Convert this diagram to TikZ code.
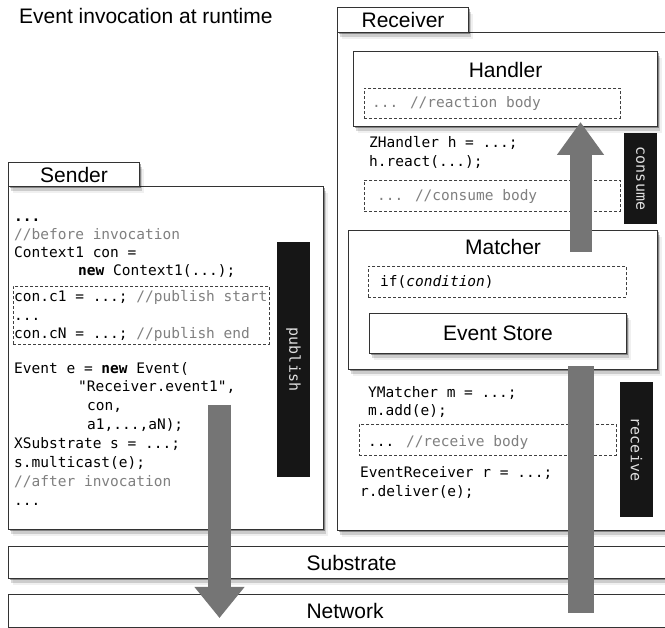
\documentclass[tikz,border=0pt]{standalone}
\usepackage{fontspec}
\setmainfont{Liberation Sans}
\newfontfamily\codefont{DejaVu Sans Mono}
\usepackage{xcolor}
\definecolor{flowgray}{RGB}{117,117,117}
\definecolor{phaseblack}{RGB}{22,22,22}
\definecolor{commentgray}{RGB}{128,128,128}
\usepackage{tikz}
\usetikzlibrary{positioning}
\usetikzlibrary{arrows.meta}
\usetikzlibrary{shadows}
\newcommand{\cmt}[1]{\textcolor{commentgray}{#1}}

\begin{document}
\begin{tikzpicture}[x=1pt,y=-1pt,font=\fontsize{21}{25}\selectfont,
  soft/.style={drop shadow={shadow xshift=1pt,shadow yshift=-1.5pt,opacity=.35,fill=black},
               drop shadow={shadow xshift=2.5pt,shadow yshift=-4pt,opacity=.15,fill=black},
               drop shadow={shadow xshift=4pt,shadow yshift=-6.5pt,opacity=.06,fill=black}},
  frame/.style={draw=black!80,fill=white,line width=1.1pt,anchor=north west,inner sep=0pt,soft},
  tab/.style={frame,soft/.style={}},
  dashbox/.style={draw=black!75,dash pattern=on 3pt off 2pt,line width=0.9pt,anchor=north west,inner sep=0pt},
  heading/.style={inner sep=0pt,anchor=north},
  code/.style={font=\codefont\fontsize{14.5}{18.3}\selectfont,align=left,anchor=base west,inner sep=0pt},
  phase/.style={fill=phaseblack,text=white!88!black,rotate=-90,inner sep=0pt,font=\codefont\fontsize{15}{18}\selectfont},
  flow/.style={draw=flowgray,-{Triangle[length=31pt,width=48pt]}}]
\useasboundingbox (0,0) rectangle (665,628);
\clip (0,0) rectangle (665,628);

\node[anchor=base west,inner sep=0pt] (title) at (19,24) {Event invocation at runtime};

% outer frames with their name tabs
\node[frame,minimum width=343pt,minimum height=498pt] (receiver) at (337,32) {};
\node[tab,minimum width=131pt,minimum height=25pt] (rcvtab) at (337,7) {Receiver};
\node[frame,minimum width=315pt,minimum height=343pt] (sender) at (8,186) {};
\node[tab,minimum width=131pt,minimum height=24pt] (sndtab) at (8,162) {Sender};
\node[frame,minimum width=686pt,minimum height=32pt] (substrate) at (8,546) {Substrate};
\node[frame,minimum width=673pt,minimum height=33pt] (network) at (8,594) {Network};

% receiver parts
\node[frame,minimum width=304pt,minimum height=75pt] (handler) at (353,51) {};
\node[heading,below=11.5pt of handler.north] (handlertitle) {Handler};
\node[frame,minimum width=309pt,minimum height=139pt] (matcher) at (348,230) {};
\node[heading,below=9.5pt of matcher.north] (matchertitle) {Matcher};
\node[frame,minimum width=257pt,minimum height=40pt] (store) at (369,313) {Event Store};

\node[dashbox,minimum width=256pt,minimum height=58pt] (pubbox) at (13,286) {};
\node[dashbox,minimum width=256pt,minimum height=30pt] (reactbox) at (364,88) {};
\node[dashbox,minimum width=256pt,minimum height=31pt] (consbox) at (364,180) {};
\node[dashbox,minimum width=258pt,minimum height=31pt] (condbox) at (368,266) {};
\node[dashbox,minimum width=257pt,minimum height=31pt] (recvbox) at (359,424) {};

% sender code (placed at the baseline of the last line)
\node[code] (sendpre) at (14,276) {\textbf{...}\\\cmt{//before invocation}\\Context1 con =\\\hspace*{64pt}\textbf{new} Context1(...);};
\node[code] (pubcode) at (14,338.6) {con.c1 = ...; \cmt{//publish start}\\...\\con.cN = ...; \cmt{//publish end}};
\node[code,font=\codefont\fontsize{14.5}{19}\selectfont] (sendpost) at (14,506) {Event e = \textbf{new} Event(\\\hspace*{64pt}"Receiver.event1",\\\hspace*{73pt}con,\\\hspace*{73pt}a1,...,aN);\\XSubstrate s = ...;\\s.multicast(e);\\\cmt{//after invocation}\\...};

% receiver code
\node[code] (reactcode) at (372,108) {\cmt{... //reaction body}};
\node[code] (handlercode) at (369,166.3) {ZHandler h = ...;\\h.react(...);};
\node[code] (conscode) at (377,201) {\cmt{... //consume body}};
\node[code] (condcode) at (380,287) {if(\textit{condition})};
\node[code] (matchcode) at (368,415.5) {YMatcher m = ...;\\m.add(e);};
\node[code] (recvcode) at (368,447) {... \cmt{//receive body}};
\node[code] (delivcode) at (360,496.3) {EventReceiver r = ...;\\r.deliver(e);};

\node[phase,minimum width=235pt,minimum height=33pt] (publish) at (293.5,359.5) {publish};
\node[phase,minimum width=91pt,minimum height=33pt] (consume) at (640.5,178.5) {consume};
\node[phase,minimum width=135pt,minimum height=33pt] (receive) at (636.5,449.5) {receive};

% event flow
\coordinate (pubstart) at (219.5,405);
\coordinate (pubend) at (219.5,618);
\draw[flow,line width=23pt] (pubstart) -- (pubend);
\coordinate (consstart) at (580.5,252);
\coordinate (consend) at (580.5,122);
\draw[flow,line width=22pt,-{Triangle[length=33pt,width=45pt]}] (consstart) -- (consend);
\coordinate (rcvstart) at (581,613);
\coordinate (rcvend) at (581,366);
\draw[draw=flowgray,line width=26pt] (rcvstart) -- (rcvend);
\end{tikzpicture}
\end{document}
